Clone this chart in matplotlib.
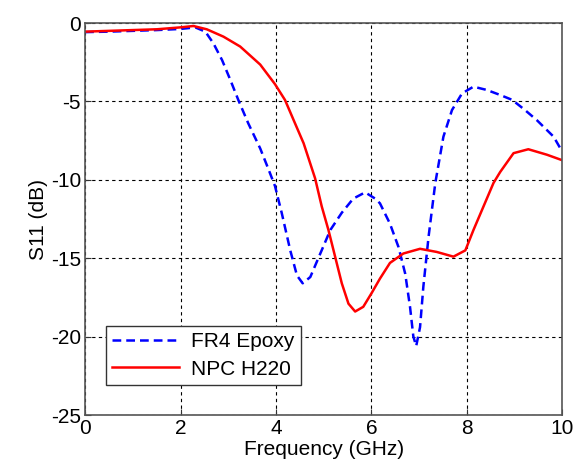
import matplotlib.pyplot as plt

# FR4 Epoxy curve
fr4_freq = [0, 0.5, 1.0, 1.5, 1.99, 2.31, 2.52, 2.69, 2.87, 3.04, 3.21, 3.42, 3.67, 3.84,
            3.98, 4.12, 4.30, 4.44, 4.56, 4.72, 4.93, 5.14, 5.38, 5.62, 5.87, 6.08,
            6.18, 6.39, 6.57, 6.71, 6.81, 6.88, 6.94, 7.02, 7.09, 7.20, 7.34, 7.51,
            7.69, 7.90, 8.14, 8.42, 8.70, 8.95, 9.2, 9.47, 9.82, 10]
fr4_s11 = [-0.58, -0.55, -0.5, -0.45, -0.38, -0.28, -0.55, -1.3, -2.36, -3.6, -4.9, -6.4, -8.0, -9.3,
           -10.4, -12.1, -14.5, -16.1, -16.6, -16.2, -14.7, -13.2, -12.1, -11.2, -10.8, -11.2,
           -11.5, -12.8, -14.3, -16.0, -18.1, -20.0, -20.6, -19.4, -16.8, -13.6, -10.2, -7.25,
           -5.55, -4.49, -4.06, -4.27, -4.59, -4.9, -5.5, -6.2, -7.25, -8.2]

# NPC H220 curve
npc_freq = [0, 0.5, 1.0, 1.5, 1.99, 2.27, 2.55, 2.9, 3.25, 3.67, 3.98, 4.19, 4.40, 4.58,
            4.82, 4.96, 5.10, 5.24, 5.38, 5.52, 5.66, 5.83, 6.01, 6.18, 6.39, 6.67,
            7.02, 7.37, 7.72, 7.97, 8.14, 8.35, 8.56, 8.70, 8.98, 9.29, 9.68, 10]
npc_s11 = [-0.55, -0.5, -0.45, -0.4, -0.28, -0.19, -0.4, -0.87, -1.5, -2.65, -3.9, -4.91, -6.4, -7.67,
           -9.9, -11.7, -13.2, -14.9, -16.6, -17.9, -18.4, -18.1, -17.2, -16.3, -15.3, -14.7,
           -14.4, -14.6, -14.9, -14.5, -13.2, -11.7, -10.2, -9.5, -8.3, -8.05, -8.4, -8.75]

plt.rcParams['font.family'] = ['Liberation Sans', 'DejaVu Sans']
plt.rcParams['axes.unicode_minus'] = False

fig = plt.figure(figsize=(5.79, 4.65), dpi=100)
ax = fig.add_axes([0.147, 0.1075, 0.824, 0.843])

ax.plot(fr4_freq, fr4_s11, color='blue', linestyle=(0, (3.5, 2)), linewidth=1.8, label='FR4 Epoxy')
ax.plot(npc_freq, npc_s11, color='red', linestyle='-', linewidth=1.8, label='NPC H220')

ax.set_xlim(0, 10)
ax.set_ylim(-25, 0)
ax.set_xticks([0, 2, 4, 6, 8, 10])
ax.set_yticks([-25, -20, -15, -10, -5, 0])
ax.tick_params(direction='in', labelsize=15, length=4, colors='#333333', labelcolor='black', pad=3)
ax.grid(True, color='black', linestyle=(0, (3, 3)), linewidth=0.8)
for sp in ax.spines.values():
    sp.set_color('#555555')
    sp.set_linewidth(1.2)

ax.set_xlabel('Frequency (GHz)', fontsize=15, labelpad=1)
ax.set_ylabel('S11 (dB)', fontsize=15, labelpad=2)

leg = ax.legend(loc='lower left', bbox_to_anchor=(0.022, 0.05), fontsize=15, fancybox=False,
                framealpha=1, edgecolor='#333333', handlelength=3.2, borderpad=0.3,
                labelspacing=0.4, handletextpad=0.6)
leg.get_frame().set_linewidth(1.0)

fig.savefig('out.png', dpi=100)
